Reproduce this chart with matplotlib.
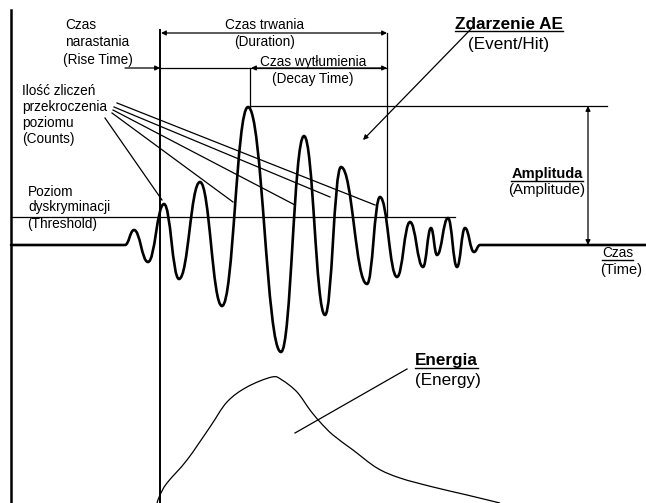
import matplotlib.pyplot as plt
import numpy as np
from matplotlib.path import Path
from matplotlib.patches import PathPatch

# waveform extremes (pixel coords, y down)
wave_x = [125, 134, 148, 164, 179, 200, 222, 248, 281, 304, 325, 341, 367, 380, 397, 410, 423, 431, 437, 448, 457, 465, 474, 480]
wave_y = [245, 230, 262, 204, 279, 182, 306, 107, 352, 136, 315, 167, 284, 197, 277, 222, 267, 228, 255, 218, 267, 228, 252, 245]

# energy curve
energy_x = [157, 160, 167, 187, 210, 227, 247, 272, 282, 297, 310, 320, 333, 353, 377, 400, 433, 467, 500]
energy_y = [503, 495, 483, 460, 427, 402, 387, 377, 380, 392, 410, 422, 435, 450, 468, 478, 487, 495, 503]

# counts leader lines: start -> end
counts_start = [(117, 103), (114, 107), (113, 110), (112, 113), (105, 118)]
counts_end = [(375, 205), (330, 197), (295, 205), (233, 202), (162, 200)]

plt.rcParams['font.family'] = ['Liberation Sans', 'DejaVu Sans']

fig = plt.figure(figsize=(6.46, 5.03), dpi=100)
ax = fig.add_axes([0, 0, 1, 1])
ax.set_xlim(0, 646)
ax.set_ylim(503, 0)
ax.axis('off')

# waveform: bezier segments between extremes, flat tangents at the tips
k = 0.44
verts = [(11, 245), (wave_x[0], wave_y[0])]
codes = [Path.MOVETO, Path.LINETO]
for i in range(1, len(wave_x)):
    x0, y0 = wave_x[i - 1], wave_y[i - 1]
    x1, y1 = wave_x[i], wave_y[i]
    dx = x1 - x0
    verts += [(x0 + k * dx, y0), (x1 - k * dx, y1), (x1, y1)]
    codes += [Path.CURVE4] * 3
verts.append((646, 245))
codes.append(Path.LINETO)
ax.add_patch(PathPatch(Path(verts, codes), fill=False, lw=1.9, color='black', capstyle='round', joinstyle='round'))

# energy: catmull-rom through the read points
pts = np.column_stack([energy_x, energy_y]).astype(float)
ev = [tuple(pts[0])]
ec = [Path.MOVETO]
for i in range(len(pts) - 1):
    p0 = pts[max(i - 1, 0)]
    p1, p2 = pts[i], pts[i + 1]
    p3 = pts[min(i + 2, len(pts) - 1)]
    ev += [tuple(p1 + (p2 - p0) / 6), tuple(p2 - (p3 - p1) / 6), tuple(p2)]
    ec += [Path.CURVE4] * 3
ax.add_patch(PathPatch(Path(ev, ec), fill=False, lw=0.9, color='black'))

# axes lines
ax.plot([11, 11], [10, 503], color='black', lw=1.8)
ax.plot([160, 160], [30, 503], color='black', lw=1.4)
ax.plot([11, 455], [217, 217], color='black', lw=0.9)  # threshold
ax.plot([387, 387], [33, 217], color='black', lw=0.9)
ax.plot([250, 250], [68, 107], color='black', lw=0.9)
ax.plot([250, 607], [106, 106], color='black', lw=0.9)
ax.plot([161, 387], [68, 68], color='black', lw=0.9)

ap = dict(arrowstyle='<|-|>', color='black', lw=0.9, mutation_scale=7, shrinkA=0, shrinkB=0)
ax.annotate('', xy=(161, 33), xytext=(387, 33), arrowprops=ap)
ax.annotate('', xy=(251, 68), xytext=(387, 68), arrowprops=ap)
ax.annotate('', xy=(588, 106), xytext=(588, 245), arrowprops=ap)
ap1 = dict(arrowstyle='-|>', color='black', lw=0.9, mutation_scale=7, shrinkA=0, shrinkB=0)
ax.annotate('', xy=(160, 68), xytext=(125, 68), arrowprops=ap1)
ax.annotate('', xy=(363, 140), xytext=(472, 28), arrowprops=ap1)

for (x0, y0), (x1, y1) in zip(counts_start, counts_end):
    ax.plot([x0, x1], [y0, y1], color='black', lw=0.9)

ax.plot([295, 407], [433, 369], color='black', lw=0.9)

fs = 9.8
def txt(x, y, s, ha='left', size=fs, bold=False):
    return ax.text(x, y, s, ha=ha, va='center', fontsize=size,
                   fontweight='bold' if bold else 'normal')

txt(65, 25, 'Czas')
txt(65, 42, 'narastania')
txt(63, 60, '(Rise Time)')
txt(265, 25, 'Czas trwania', ha='center')
txt(265, 42, '(Duration)', ha='center')
txt(313, 62, 'Czas wytłumienia', ha='center')
txt(313, 79, '(Decay Time)', ha='center')
txt(22, 91, 'Ilość zliczeń')
txt(22, 107, 'przekroczenia')
txt(22, 123, 'poziomu')
txt(22, 139, '(Counts)')
txt(28, 192, 'Poziom')
txt(28, 207, 'dyskryminacji')
txt(27, 224, '(Threshold)')
txt(468, 44, '(Event/Hit)', size=12.3)
txt(547, 190, '(Amplitude)', ha='center', size=10.8)
txt(600, 270, '(Time)', size=10.5)
txt(415, 381, '(Energy)', size=12.3)

under = [txt(455, 24, 'Zdarzenie AE', size=12.3, bold=True),
         txt(547, 174, 'Amplituda', ha='center', size=10.5, bold=True),
         txt(602, 253, 'Czas'),
         txt(415, 361, 'Energia', size=12.3, bold=True)]

fig.canvas.draw()
inv = ax.transData.inverted()
for t in under:
    bb = t.get_window_extent()
    (xa, ya), (xb, yb) = inv.transform([(bb.x0, bb.y0), (bb.x1, bb.y0)])
    ax.plot([xa, xb], [ya - 0.5, yb - 0.5], color='black', lw=1.0)

fig.savefig('out.png', dpi=100)
